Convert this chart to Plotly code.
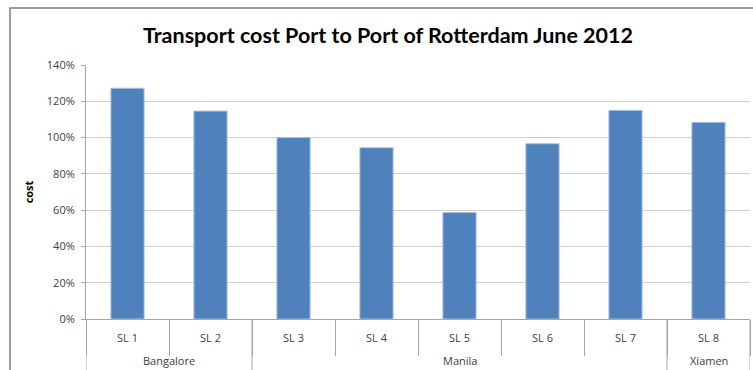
import plotly.graph_objects as go

groups = ["Bangalore", "Bangalore", "Manila", "Manila", "Manila", "Manila", "Manila", "Xiamen"]
lines = ["SL 1", "SL 2", "SL 3", "SL 4", "SL 5", "SL 6", "SL 7", "SL 8"]
cost = [1.272, 1.146, 1.0, 0.944, 0.587, 0.966, 1.15, 1.084]
yticks = [0, 0.2, 0.4, 0.6, 0.8, 1.0, 1.2, 1.4]

W, H = 753, 370
L, R, T, B = 86, 3, 65, 51
pw, ph = W - L - R, H - T - B
GRAY = "#A6A6A6"

fig = go.Figure(go.Bar(
    x=lines, y=cost,
    marker=dict(color="#4F81BD", line=dict(color="#A9C1E0", width=1)),
    width=0.4,
))

fig.update_layout(
    width=W, height=H,
    margin=dict(l=L, r=R, t=T, b=B),
    paper_bgcolor="white", plot_bgcolor="white",
    showlegend=False,
    font=dict(family="Open Sans, Arial", color="#404040", size=11),
    title=dict(text="<b>Transport cost Port to Port of Rotterdam June 2012</b>",
               x=388 / W, xanchor="center", y=1 - 35 / H, yanchor="middle",
               font=dict(family="Lato", size=21.5, color="black")),
    xaxis=dict(type="category", range=[-0.5, len(lines) - 0.5],
               showline=True, linecolor=GRAY, linewidth=1,
               ticks="outside", tickson="boundaries", ticklen=36, tickcolor=GRAY,
               ticklabelstandoff=9,
               tickfont=dict(family="Open Sans", size=11, color="#404040"),
               showgrid=False),
    yaxis=dict(range=[0, 1.4], tickvals=yticks, tickformat=".0%",
               showline=True, linecolor=GRAY, linewidth=1,
               ticks="outside", ticklen=4, tickcolor=GRAY,
               ticklabelstandoff=4,
               gridcolor="#D0D0D0", gridwidth=1,
               tickfont=dict(family="Open Sans", size=11, color="#404040"),
               title=dict(text="<b>cost</b>", standoff=10,
                          font=dict(family="Open Sans", size=11, color="black"))),
    bargap=0.6,
)

# group dividers and labels
bounds = [0]
for i in range(1, len(groups)):
    if groups[i] != groups[i - 1]:
        bounds.append(i)
bounds.append(len(groups))
for b in bounds:
    fig.add_shape(type="line", xref="x", yref="paper", x0=b - 0.5, x1=b - 0.5,
                  y0=0, y1=-(B + 5) / ph, line=dict(color=GRAY, width=1))
for a, b in zip(bounds[:-1], bounds[1:]):
    fig.add_annotation(x=(a + b - 1) / 2, xref="x", y=-41 / ph, yref="paper",
                       text=groups[a], showarrow=False, yanchor="middle",
                       font=dict(family="Open Sans", size=11, color="#404040"))

# chart outer border (left and top edges)
fig.add_shape(type="rect", xref="paper", yref="paper",
              x0=(10 - L) / pw, x1=(W + 5 - L) / pw,
              y0=-(B + 5) / ph, y1=(H - B - 8) / ph,
              line=dict(color="#7F7F7F", width=1.5), fillcolor="rgba(0,0,0,0)", layer="below")

fig.write_html("out.html")
